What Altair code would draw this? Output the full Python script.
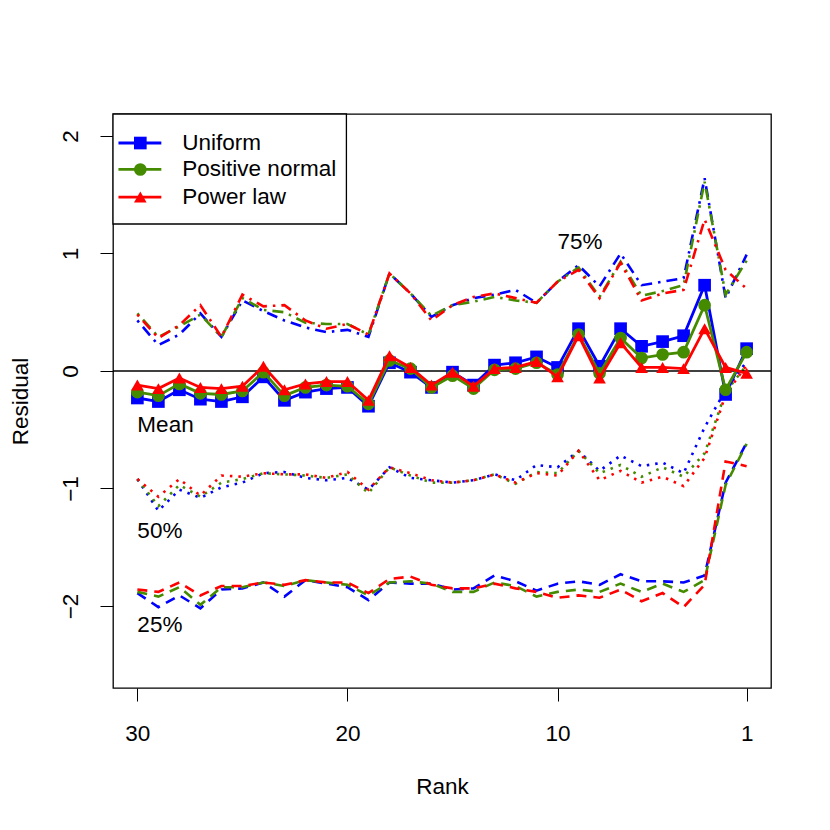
import altair as alt
import pandas as pd

# ---------------- data ----------------
ranks = list(range(30, 0, -1))
models = ["Uniform", "Positive normal", "Power law"]
colors = ["#0000FF", "#458B00", "#FF0000"]
shapes = ["square", "circle", "triangle-up"]
marker_sizes = [160, 160, 200]
stats = ["Mean", "75%", "50%", "25%"]

# values listed for rank 30, 29, ..., 1
mean_uniform = [-0.23, -0.26, -0.16, -0.24, -0.26, -0.22, -0.05, -0.25, -0.18, -0.15,
                -0.14, -0.30, 0.07, -0.01, -0.14, -0.01, -0.12, 0.05, 0.07, 0.12,
                0.03, 0.36, 0.04, 0.36, 0.21, 0.25, 0.30, 0.73, -0.20, 0.19]
mean_posnorm = [-0.18, -0.21, -0.11, -0.19, -0.20, -0.17, -0.01, -0.21, -0.14, -0.12,
                -0.13, -0.28, 0.09, 0.02, -0.14, -0.04, -0.15, 0.01, 0.02, 0.07,
                -0.03, 0.31, -0.02, 0.28, 0.11, 0.14, 0.16, 0.56, -0.16, 0.16]
mean_power = [-0.12, -0.15, -0.06, -0.14, -0.15, -0.13, 0.04, -0.16, -0.11, -0.09,
              -0.09, -0.25, 0.13, 0.03, -0.12, -0.01, -0.13, 0.02, 0.03, 0.08,
              -0.05, 0.30, -0.06, 0.24, 0.03, 0.03, 0.02, 0.36, 0.03, -0.02]

q75_uniform = [0.43, 0.22, 0.31, 0.49, 0.29, 0.60, 0.51, 0.43, 0.37, 0.33,
               0.35, 0.29, 0.83, 0.66, 0.46, 0.56, 0.62, 0.65, 0.69, 0.58,
               0.76, 0.90, 0.72, 1.00, 0.73, 0.76, 0.79, 1.64, 0.62, 0.99]
q75_posnorm = [0.49, 0.29, 0.38, 0.48, 0.29, 0.62, 0.52, 0.50, 0.41, 0.40,
               0.40, 0.31, 0.83, 0.66, 0.47, 0.56, 0.59, 0.63, 0.60, 0.58,
               0.76, 0.88, 0.63, 0.93, 0.64, 0.68, 0.73, 1.61, 0.65, 0.94]
q75_power = [0.48, 0.28, 0.39, 0.56, 0.29, 0.65, 0.55, 0.56, 0.43, 0.36,
             0.40, 0.31, 0.83, 0.66, 0.43, 0.56, 0.63, 0.66, 0.62, 0.58,
             0.76, 0.86, 0.62, 0.92, 0.60, 0.66, 0.69, 1.29, 0.86, 0.70]

q50_uniform = [-0.92, -1.19, -1.01, -1.08, -0.99, -0.95, -0.87, -0.86, -0.91, -0.93,
               -0.91, -1.01, -0.82, -0.91, -0.93, -0.95, -0.93, -0.88, -0.93, -0.80,
               -0.82, -0.68, -0.85, -0.72, -0.81, -0.78, -0.87, -0.48, -0.16, 0.08]
q50_posnorm = [-0.92, -1.15, -0.97, -1.07, -0.95, -0.92, -0.87, -0.88, -0.89, -0.91,
               -0.88, -1.04, -0.82, -0.89, -0.95, -0.95, -0.93, -0.88, -0.96, -0.86,
               -0.87, -0.68, -0.87, -0.80, -0.90, -0.82, -0.90, -0.70, -0.18, 0.05]
q50_power = [-0.92, -1.07, -0.92, -1.06, -0.89, -0.90, -0.87, -0.88, -0.88, -0.91,
             -0.86, -1.01, -0.82, -0.87, -0.93, -0.95, -0.93, -0.88, -0.95, -0.87,
             -0.89, -0.68, -0.93, -0.85, -0.95, -0.90, -0.98, -0.74, -0.20, 0.05]

q25_uniform = [-1.89, -2.01, -1.91, -2.02, -1.86, -1.85, -1.80, -1.92, -1.78, -1.81,
               -1.84, -1.95, -1.80, -1.81, -1.81, -1.86, -1.85, -1.74, -1.79, -1.87,
               -1.81, -1.79, -1.82, -1.73, -1.79, -1.79, -1.80, -1.74, -0.95, -0.61]
q25_posnorm = [-1.88, -1.92, -1.84, -1.99, -1.84, -1.84, -1.80, -1.83, -1.78, -1.80,
               -1.82, -1.91, -1.80, -1.79, -1.81, -1.88, -1.88, -1.80, -1.83, -1.92,
               -1.88, -1.86, -1.88, -1.81, -1.88, -1.81, -1.88, -1.78, -0.97, -0.62]
q25_power = [-1.86, -1.88, -1.80, -1.91, -1.83, -1.83, -1.80, -1.82, -1.78, -1.80,
             -1.80, -1.89, -1.77, -1.75, -1.82, -1.85, -1.85, -1.81, -1.85, -1.88,
             -1.93, -1.91, -1.93, -1.86, -1.96, -1.89, -2.01, -1.82, -0.77, -0.81]

label_texts = ["75%", "Mean", "50%", "25%"]
label_ranks = [10, 30, 30, 30]
label_values = [1.10, -0.46, -1.36, -2.16]

series = {
    "Uniform": {"Mean": mean_uniform, "75%": q75_uniform, "50%": q50_uniform, "25%": q25_uniform},
    "Positive normal": {"Mean": mean_posnorm, "75%": q75_posnorm, "50%": q50_posnorm, "25%": q25_posnorm},
    "Power law": {"Mean": mean_power, "75%": q75_power, "50%": q50_power, "25%": q25_power},
}

rows = []
for m in models:
    for s in stats:
        for r, v in zip(ranks, series[m][s]):
            rows.append({"rank": r, "value": v, "model": m, "stat": s})
df = pd.DataFrame(rows)

labels_df = pd.DataFrame({"rank": label_ranks, "value": label_values, "text": label_texts})

# ---------------- layout ----------------
FONT = "Liberation Sans"
FS = 22.5
W, H = 658, 574
XDOM = [-0.16, 31.16]
YDOM = [-2.698, 2.187]

xscale = alt.Scale(domain=XDOM, reverse=True, nice=False, zero=False)
yscale = alt.Scale(domain=YDOM, nice=False, zero=False)
cscale = alt.Scale(domain=models, range=colors)
dscale = alt.Scale(domain=stats, range=[[1, 0], [2.5, 6, 11, 6], [2.5, 6], [10, 7]])
shscale = alt.Scale(domain=models, range=shapes)
szscale = alt.Scale(domain=models, range=marker_sizes)

xaxis = alt.Axis(values=[30, 20, 10, 1], title="Rank", grid=False, domain=False,
                 tickSize=13, tickColor="black", tickWidth=1,
                 labelFont=FONT, labelFontSize=FS, labelColor="black",
                 labelBaseline="middle", labelPadding=32, labelFlush=False,
                 titleFont=FONT, titleFontSize=FS, titleFontWeight="normal", titleColor="black",
                 titleX=W / 2, titleY=98, titleBaseline="middle", titleAlign="center")
yaxis = alt.Axis(values=[-2, -1, 0, 1, 2], title="Residual", grid=False, domain=False,
                 tickSize=13, tickColor="black", tickWidth=1,
                 labelFont=FONT, labelFontSize=FS, labelColor="black",
                 labelAngle=270, labelAlign="center", labelBaseline="middle",
                 labelPadding=30, labelFlush=False,
                 titleFont=FONT, titleFontSize=FS, titleFontWeight="normal", titleColor="black",
                 titleAngle=270, titleX=-93, titleY=H / 2, titleBaseline="middle", titleAlign="center")

X = alt.X("rank:Q", scale=xscale, axis=xaxis)
Y = alt.Y("value:Q", scale=yscale, axis=yaxis)

base = alt.Chart(df)

quant = base.transform_filter(alt.datum.stat != "Mean").mark_line(
    strokeWidth=2.6, strokeCap="butt", clip=True
).encode(
    x=X, y=Y,
    color=alt.Color("model:N", scale=cscale, legend=None),
    strokeDash=alt.StrokeDash("stat:N", scale=dscale, legend=None),
    detail="model:N",
)

zero = alt.Chart(pd.DataFrame({"z": [0]})).mark_rule(color="black", strokeWidth=1.4).encode(
    y=alt.Y("z:Q", scale=yscale, axis=yaxis)
)

mean_layers = []
for m in models:
    sub = base.transform_filter((alt.datum.stat == "Mean") & (alt.datum.model == m))
    ln = sub.mark_line(strokeWidth=2.8, clip=True).encode(
        x=X, y=Y, color=alt.Color("model:N", scale=cscale, legend=None))
    pt = sub.mark_point(filled=True, opacity=1, clip=True).encode(
        x=X, y=Y,
        color=alt.Color("model:N", scale=cscale, legend=None),
        shape=alt.Shape("model:N", scale=shscale, legend=None),
        size=alt.Size("model:N", scale=szscale, legend=None),
    )
    mean_layers += [ln, pt]

texts = alt.Chart(labels_df).mark_text(
    align="left", baseline="middle", font=FONT, fontSize=FS, color="black"
).encode(x=alt.X("rank:Q", scale=xscale, axis=xaxis), y=alt.Y("value:Q", scale=yscale, axis=yaxis), text="text:N")

# ---------------- legend (drawn in data coordinates) ----------------
leg_box = pd.DataFrame({"x1": [XDOM[1]], "x2": [20.05], "y1": [1.251], "y2": [YDOM[1]]})
leg_rows = pd.DataFrame({
    "model": models,
    "ly": [1.94, 1.715, 1.48],
    "lx1": [30.90] * 3, "lx2": [28.86] * 3, "px": [29.86] * 3, "tx": [27.86] * 3,
})

box = alt.Chart(leg_box).mark_rect(fill="white", stroke="black", strokeWidth=1.3).encode(
    x=alt.X("x1:Q", scale=xscale, axis=xaxis), x2="x2:Q",
    y=alt.Y("y1:Q", scale=yscale, axis=yaxis), y2="y2:Q")
leg_lines = alt.Chart(leg_rows).mark_rule(strokeWidth=2.8).encode(
    x=alt.X("lx1:Q", scale=xscale, axis=xaxis), x2="lx2:Q",
    y=alt.Y("ly:Q", scale=yscale, axis=yaxis),
    color=alt.Color("model:N", scale=cscale, legend=None))
leg_pts = alt.Chart(leg_rows).mark_point(filled=True, opacity=1).encode(
    x=alt.X("px:Q", scale=xscale, axis=xaxis),
    y=alt.Y("ly:Q", scale=yscale, axis=yaxis),
    color=alt.Color("model:N", scale=cscale, legend=None),
    shape=alt.Shape("model:N", scale=shscale, legend=None),
    size=alt.Size("model:N", scale=szscale, legend=None))
leg_txt = alt.Chart(leg_rows).mark_text(
    align="left", baseline="middle", font=FONT, fontSize=FS, color="black").encode(
    x=alt.X("tx:Q", scale=xscale, axis=xaxis),
    y=alt.Y("ly:Q", scale=yscale, axis=yaxis),
    text="model:N")

chart = alt.layer(
    quant, zero, *mean_layers, texts, box, leg_lines, leg_pts, leg_txt
).properties(
    width=W, height=H,
    autosize=alt.AutoSizeParams(type="none"),
    padding={"left": 105, "top": 106, "right": 40, "bottom": 120},
    background="white",
).configure_view(stroke="black", strokeWidth=1.3)

chart.save("out.html", embed_options={"renderer": "svg", "actions": False})
